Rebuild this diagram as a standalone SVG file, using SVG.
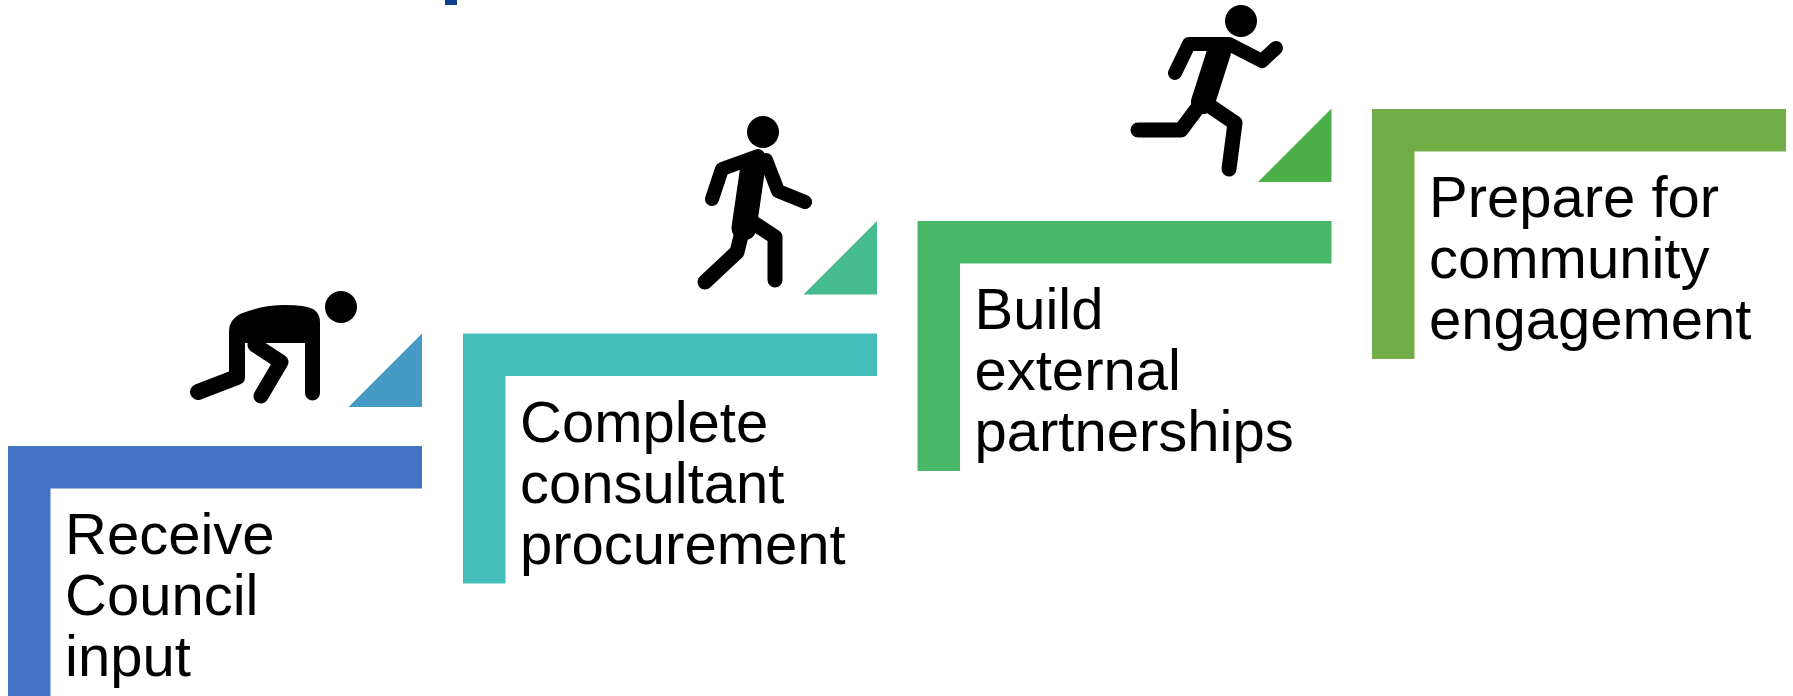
<svg xmlns="http://www.w3.org/2000/svg" width="1793" height="696" viewBox="0 0 1793 696">
<style>
  .lbl { font-family: "Liberation Sans", Arial, sans-serif; font-size: 58px; fill: #000000; }
  .limb { fill: none; stroke: #000000; stroke-linecap: round; stroke-linejoin: round; }
  .fig { fill: #000000; }
</style>
<rect width="1793" height="696" fill="#ffffff"/>
<rect x="445" y="0" width="12" height="5" fill="#0D3F8F"/>

<g id="step1">
  <path d="M8 446 H422 V488.5 H50.5 V696 H8 Z" fill="#4472C4"/>
  <path d="M422 333.5 V407 H348.5 Z" fill="#459BC3"/>
  <text class="lbl" x="65" y="554">Receive</text>
  <text class="lbl" x="65" y="615">Council</text>
  <text class="lbl" x="65" y="676">input</text>
</g>
<g id="step2">
  <path d="M463 333.5 H877 V376 H505.5 V583.5 H463 Z" fill="#45BDB9"/>
  <path d="M877 221 V294.5 H803.5 Z" fill="#45BB8F"/>
  <text class="lbl" x="520" y="441.5">Complete</text>
  <text class="lbl" x="520" y="502.5">consultant</text>
  <text class="lbl" x="520" y="563.5">procurement</text>
</g>
<g id="step3">
  <path d="M917.5 221 H1331.5 V263.5 H960 V471 H917.5 Z" fill="#48B868"/>
  <path d="M1331.5 108.5 V182 H1258 Z" fill="#4CB04A"/>
  <text class="lbl" x="974.5" y="329">Build</text>
  <text class="lbl" x="974.5" y="390">external</text>
  <text class="lbl" x="974.5" y="451">partnerships</text>
</g>
<g id="step4">
  <path d="M1372 109 H1786 V151.5 H1414.5 V359 H1372 Z" fill="#70AD47"/>
  <text class="lbl" x="1429" y="217">Prepare for</text>
  <text class="lbl" x="1429" y="278">community</text>
  <text class="lbl" x="1429" y="339">engagement</text>
</g>

<g id="figure-crouch">
  <circle class="fig" cx="341" cy="307" r="16"/>
  <path class="fig" d="M229 342 L229 331 Q229 320 240 314 Q262 305 285 305 Q305 305 313 309 Q320 313 320 322 L320 393 A7.5 7.5 0 0 1 305 393 L305 343 L245 343 L245 342 Z"/>
  <polyline class="limb" stroke-width="16" points="237,336 237,377 198,392"/>
  <polyline class="limb" stroke-width="15" points="255,345 281,362 261,396"/>
</g>

<g id="figure-walk">
  <circle class="fig" cx="763" cy="132" r="16"/>
  <polyline class="limb" stroke-width="14" points="712,199 722,169 758,156"/>
  <line class="limb" stroke-width="25" x1="753" y1="166" x2="744" y2="228"/>
  <polyline class="limb" stroke-width="14" points="766,160 778,191 805,202"/>
  <polyline class="limb" stroke-width="15" points="743,228 737,252 705,282"/>
  <polyline class="limb" stroke-width="15" points="752,222 775,237 775,280"/>
</g>

<g id="figure-run">
  <circle class="fig" cx="1241" cy="21" r="16"/>
  <polyline class="limb" stroke-width="14" points="1175,73 1189,44 1229,44 1262,61 1276,48"/>
  <line class="limb" stroke-width="24" x1="1219" y1="52" x2="1203" y2="102"/>
  <polyline class="limb" stroke-width="15" points="1199,106 1181,130 1138,130"/>
  <polyline class="limb" stroke-width="15" points="1210,106 1235,123 1229,169"/>
</g>

<g id="connectors"></g>
</svg>
